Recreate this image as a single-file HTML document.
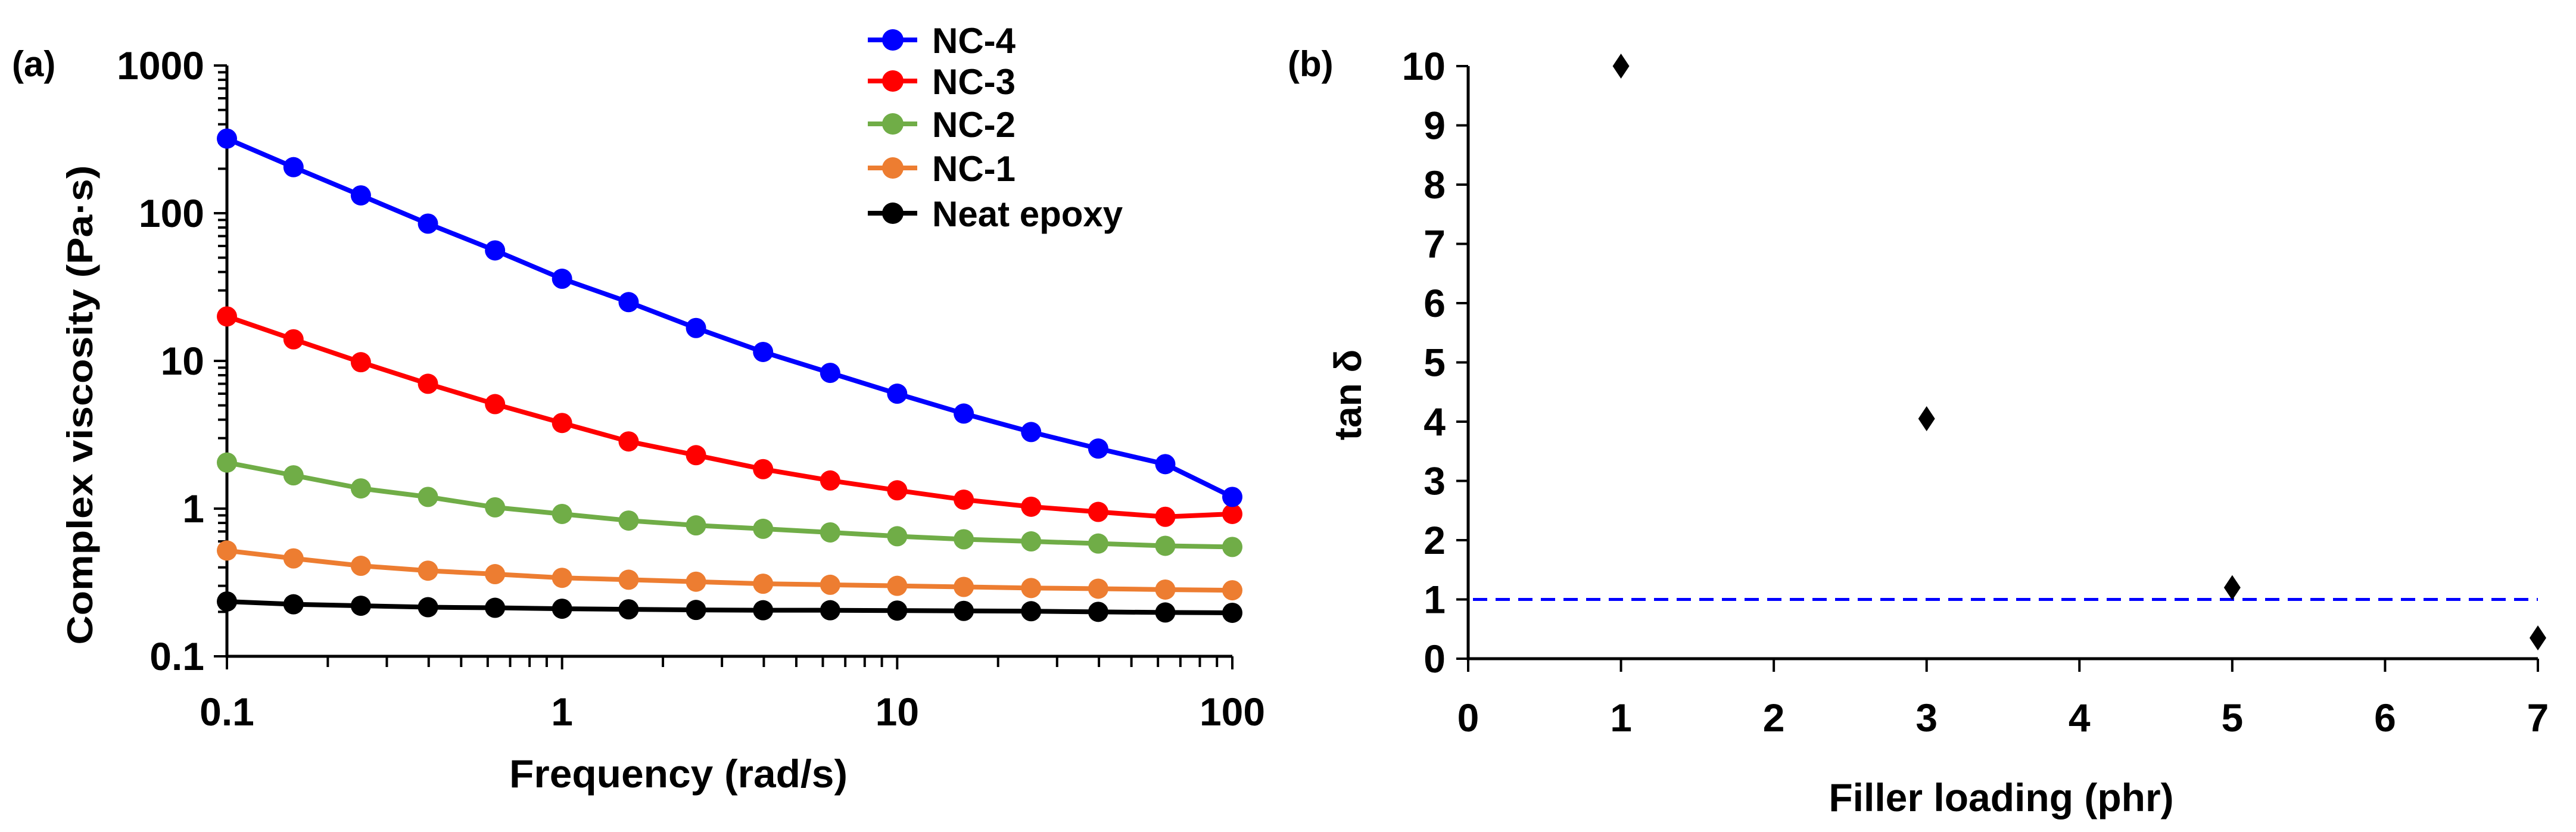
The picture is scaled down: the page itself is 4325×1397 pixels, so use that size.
<!DOCTYPE html>
<html><head><meta charset="utf-8"><style>
html,body{margin:0;padding:0;background:#fff}
svg{display:block}
.t{font-family:"Liberation Sans Narrow","Liberation Sans",sans-serif;font-weight:bold;fill:#000}
.w{font-family:"Liberation Sans",sans-serif;font-weight:bold;fill:#000}
</style></head><body>
<svg id="fig" width="4325" height="1397" viewBox="0 0 4325 1397" xmlns="http://www.w3.org/2000/svg">
<g id="pa"></g>
<g id="pb"></g>
</svg>
<script>
const freqs=[0.1,0.158,0.251,0.398,0.631,1,1.58,2.51,3.98,6.31,10,15.8,25.1,39.8,63.1,100];
const nc4=[320,205,132,85,56,36,25,16.7,11.5,8.3,6,4.4,3.3,2.55,2.0,1.2];
const nc3=[20,14,9.8,7,5.1,3.8,2.85,2.3,1.85,1.55,1.33,1.15,1.03,0.95,0.88,0.92];
const nc2=[2.05,1.68,1.37,1.2,1.02,0.92,0.83,0.77,0.73,0.69,0.65,0.62,0.6,0.58,0.56,0.55];
const nc1=[0.52,0.46,0.41,0.38,0.36,0.34,0.33,0.32,0.31,0.305,0.3,0.295,0.29,0.287,0.283,0.28];
const neat=[0.235,0.225,0.22,0.215,0.213,0.21,0.208,0.206,0.205,0.205,0.204,0.203,0.202,0.2,0.198,0.197];
const seriesNames=["NC-4","NC-3","NC-2","NC-1","Neat epoxy"];
const seriesColors=["#0000ff","#ff0000","#70ad47","#ed7d31","#000000"];
const yTicksA=[0.1,1,10,100,1000];
const yTickLabelsA=["0.1","1","10","100","1000"];
const xTicksA=[0.1,1,10,100];
const xTickLabelsA=["0.1","1","10","100"];
const loading=[1,3,5,7];
const tanDelta=[10,4.05,1.2,0.35];
const xTicksB=[0,1,2,3,4,5,6,7];
const yTicksB=[0,1,2,3,4,5,6,7,8,9,10];
const refLine=1;

const NS="http://www.w3.org/2000/svg";
function mk(p,tag,attrs,name,txt){const e=document.createElementNS(NS,tag);for(const k in attrs)e.setAttribute(k,attrs[k]);


if(txt!==undefined)e.textContent=txt;p.appendChild(e);return e;}

// Panel A
const pa=document.getElementById('pa');
const AX0=381,AX1=2069,AY0=1102,AY1=110;
const xa=v=>AX0+(Math.log10(v)+1)/3*(AX1-AX0);
const ya=v=>AY0-(Math.log10(v)+1)/4*(AY0-AY1);
for(let d=-1;d<2;d++)for(let m=2;m<10;m++){const v=m*Math.pow(10,d);
 mk(pa,'rect',{x:xa(v)-2,y:AY0,width:4,height:18,fill:'#000'},'x-minor-tick');}
for(let d=-1;d<3;d++)for(let m=2;m<10;m++){const v=m*Math.pow(10,d);
 mk(pa,'rect',{x:AX0-15,y:ya(v)-2,width:15,height:4,fill:'#000'},'y-minor-tick');}
yTicksA.forEach((v,i)=>{mk(pa,'rect',{x:AX0-22,y:ya(v)-2,width:22,height:4,fill:'#000'},'y-major-tick');
 mk(pa,'text',{x:AX0-38,y:ya(v)+23,'text-anchor':'end','font-size':66,class:'t'},'y-tick-label',yTickLabelsA[i]);});
xTicksA.forEach((v,i)=>{mk(pa,'rect',{x:xa(v)-2,y:AY0,width:4,height:22,fill:'#000'},'x-major-tick');
 mk(pa,'text',{x:xa(v),y:1218,'text-anchor':'middle','font-size':66,class:'t'},'x-tick-label',xTickLabelsA[i]);});
mk(pa,'rect',{x:AX0-2.5,y:AY1,width:5,height:AY0-AY1+2,fill:'#000'},'y-axis');
mk(pa,'rect',{x:AX0-2.5,y:AY0-2.5,width:AX1-AX0+2.5,height:5,fill:'#000'},'x-axis');
const dataA=[nc4,nc3,nc2,nc1,neat];
for(let s=4;s>=0;s--){const vals=dataA[s];const g=mk(pa,'g',{},'series-'+seriesNames[s].toLowerCase().replace(' ','-'));
 mk(g,'polyline',{points:vals.map((v,i)=>xa(freqs[i])+','+ya(v)).join(' '),fill:'none',stroke:seriesColors[s],'stroke-width':8},'series-line');
 vals.forEach((v,i)=>mk(g,'circle',{cx:xa(freqs[i]),cy:ya(v),r:17,fill:seriesColors[s]},'data-point'));}
seriesNames.forEach((n,i)=>{const y=[67,136,208,282,358][i];const g=mk(pa,'g',{},'legend-entry');
 mk(g,'line',{x1:1457,x2:1540,y1:y,y2:y,stroke:seriesColors[i],'stroke-width':8},'legend-line');
 mk(g,'circle',{cx:1499,cy:y,r:18,fill:seriesColors[i]},'legend-marker');
 mk(g,'text',{x:1565,y:y+22,'font-size':60,class:'t'},'legend-label',n);});
mk(pa,'text',{x:1139,y:1322,'text-anchor':'middle','font-size':66,class:'t',textLength:568,lengthAdjust:'spacingAndGlyphs'},'x-axis-title','Frequency (rad/s)');
mk(pa,'text',{x:0,y:0,'text-anchor':'middle','font-size':60,class:'w',transform:'translate(155,680) rotate(-90)',textLength:805,lengthAdjust:'spacingAndGlyphs'},'y-axis-title','Complex viscosity (Pa·s)');
mk(pa,'text',{x:20,y:128,'font-size':60,class:'t'},'panel-label-a','(a)');

// Panel B
const pb=document.getElementById('pb');
const BX0=2465,BX1=4261,BY0=1106,BY1=111;
const xb=v=>BX0+v/7*(BX1-BX0);
const yb=v=>BY0-v/10*(BY0-BY1);
yTicksB.forEach(v=>{mk(pb,'rect',{x:BX0-20,y:yb(v)-2,width:20,height:4,fill:'#000'},'y-major-tick');
 mk(pb,'text',{x:BX0-38,y:yb(v)+23,'text-anchor':'end','font-size':66,class:'t'},'y-tick-label',String(v));});
xTicksB.forEach(v=>{mk(pb,'rect',{x:xb(v)-2,y:BY0,width:4,height:22,fill:'#000'},'x-major-tick');
 mk(pb,'text',{x:xb(v),y:1228,'text-anchor':'middle','font-size':66,class:'t'},'x-tick-label',String(v));});
mk(pb,'rect',{x:BX0-2.5,y:BY1,width:5,height:BY0-BY1+2,fill:'#000'},'y-axis');
mk(pb,'rect',{x:BX0-2.5,y:BY0-2.5,width:BX1-BX0+2.5,height:5,fill:'#000'},'x-axis');
mk(pb,'line',{x1:BX0+8,x2:BX1,y1:yb(refLine),y2:yb(refLine),stroke:'#0000ff','stroke-width':5,'stroke-dasharray':'24 14'},'reference-line-tan-delta-1');
loading.forEach((v,i)=>{const cx=xb(v),cy=yb(tanDelta[i]);
 mk(pb,'polygon',{points:`${cx},${cy-21} ${cx+14},${cy} ${cx},${cy+21} ${cx-14},${cy}`,fill:'#000'},'data-point');});
mk(pb,'text',{x:3360,y:1362,'text-anchor':'middle','font-size':66,class:'t'},'x-axis-title','Filler loading (phr)');
mk(pb,'text',{x:0,y:0,'text-anchor':'middle','font-size':64,class:'w',transform:'translate(2285,663) rotate(-90)'},'y-axis-title','tan δ');
mk(pb,'text',{x:2162,y:128,'font-size':60,class:'t'},'panel-label-b','(b)');
</script>
</body></html>
